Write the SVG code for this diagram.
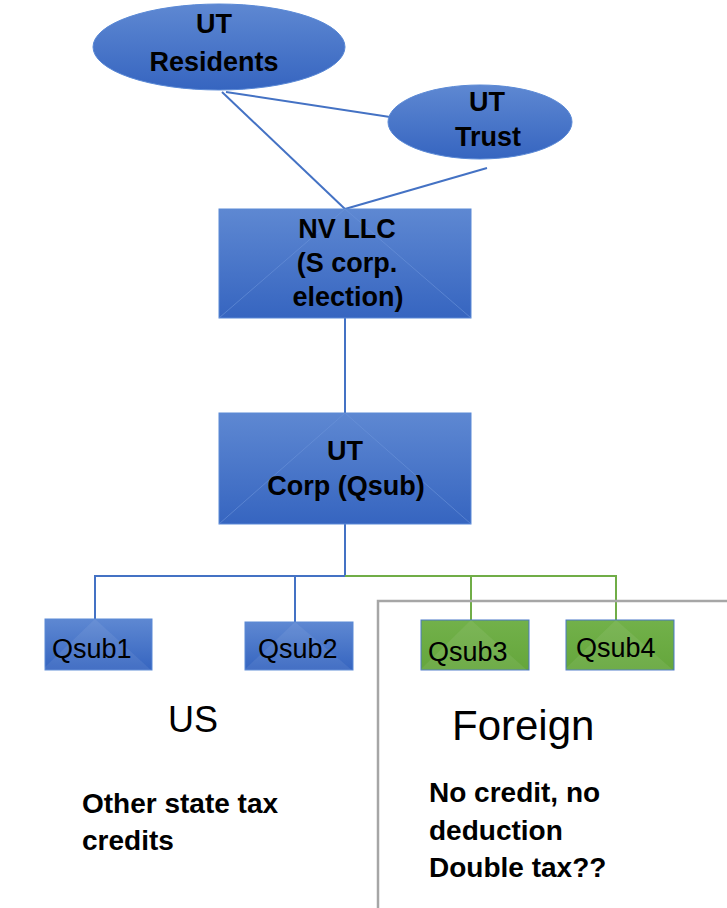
<svg xmlns="http://www.w3.org/2000/svg" width="727" height="908" viewBox="0 0 727 908">
<defs>
<linearGradient id="gb" x1="0" y1="0" x2="0" y2="1">
<stop offset="0" stop-color="#5E88D2"/>
<stop offset="1" stop-color="#3665C0"/>
</linearGradient>
<linearGradient id="gg" x1="0" y1="0" x2="0" y2="1">
<stop offset="0" stop-color="#72B14A"/>
<stop offset="1" stop-color="#65A63C"/>
</linearGradient>
</defs>
<style>
.bl{fill:url(#gb);stroke:#5A89D6;stroke-width:1}
.gr{fill:url(#gg);stroke:#4A78C8;stroke-width:1}
.tri{fill:#ffffff;fill-opacity:0.07}
.diag{stroke:#6D95DB;stroke-width:1;stroke-opacity:0.6;fill:none}
.cb{stroke:#4472C4;stroke-width:2;fill:none}
.cg{stroke:#70AD47;stroke-width:2;fill:none}
.bt{font-family:"Liberation Sans",Arial,sans-serif;font-weight:bold;font-size:27px;fill:#000;text-anchor:middle}
.qt{font-family:"Liberation Sans",Arial,sans-serif;font-size:27px;fill:#000}
.bd{font-family:"Liberation Sans",Arial,sans-serif;font-weight:bold;font-size:28px;fill:#000}
.rg{font-family:"Liberation Sans",Arial,sans-serif;fill:#000}
</style>
<g id="connectors">
<line class="cb" x1="222" y1="92" x2="345" y2="209"/>
<line class="cb" x1="226" y1="92" x2="390" y2="117"/>
<line class="cb" x1="487" y1="168" x2="345" y2="209"/>
<line class="cb" x1="345" y1="318" x2="345" y2="413"/>
<line class="cb" x1="345" y1="524" x2="345" y2="576"/>
<polyline class="cb" points="95,619 95,576 345,576"/>
<line class="cb" x1="295" y1="576" x2="295" y2="622"/>
<polyline class="cg" points="345,576 616,576 616,620"/>
<line class="cg" x1="471" y1="576" x2="471" y2="620"/>
</g>
<g id="region-border">
<path d="M378,908 V601 H727" fill="none" stroke="#A6A6A6" stroke-width="2.5"/>
</g>
<g id="ut-residents">
<ellipse class="bl" cx="219" cy="47" rx="126" ry="43"/>
<text class="bt" x="214" y="33">UT</text>
<text class="bt" x="214" y="71">Residents</text>
</g>
<g id="ut-trust">
<ellipse class="bl" cx="480" cy="122" rx="92" ry="37"/>
<text class="bt" x="487" y="111">UT</text>
<text class="bt" x="488" y="146">Trust</text>
</g>
<g id="nv-llc">
<rect class="bl" x="219" y="209" width="252" height="109"/>
<polyline class="diag" points="219,318 345,209 471,318"/>
<text class="bt" x="347" y="238">NV LLC</text>
<text class="bt" x="347" y="272">(S corp.</text>
<text class="bt" x="348" y="306">election)</text>
</g>
<g id="ut-corp">
<rect class="bl" x="219" y="413" width="252" height="111"/>
<polyline class="diag" points="219,524 345,413 471,524"/>
<text class="bt" x="345" y="460">UT</text>
<text class="bt" x="346" y="495">Corp (Qsub)</text>
</g>
<g id="qsub1">
<rect class="bl" x="45" y="619" width="107" height="51"/>
<polygon class="tri" points="41,671 95,619 152,671"/>
<text class="qt" x="52" y="658">Qsub1</text>
</g>
<g id="qsub2">
<rect class="bl" x="245" y="622" width="108" height="48"/>
<polygon class="tri" points="243,671 295,622 353,671"/>
<text class="qt" x="258" y="658">Qsub2</text>
</g>
<g id="qsub3">
<rect class="gr" x="421" y="620" width="108" height="50"/>
<polygon class="tri" points="418,672 471,620 529,672"/>
<text class="qt" x="428" y="661">Qsub3</text>
</g>
<g id="qsub4">
<rect class="gr" x="566" y="620" width="108" height="50"/>
<polygon class="tri" points="563,671 616,620 674,671"/>
<text class="qt" x="576" y="657">Qsub4</text>
</g>
<g id="labels">
<text class="rg" x="168" y="732" font-size="36">US</text>
<text class="rg" x="452" y="740" font-size="42">Foreign</text>
<text class="bd" x="82" y="813">Other state tax</text>
<text class="bd" x="82" y="850">credits</text>
<text class="bd" x="429" y="802">No credit, no</text>
<text class="bd" x="429" y="840">deduction</text>
<text class="bd" x="429" y="877">Double tax??</text>
</g>
</svg>
